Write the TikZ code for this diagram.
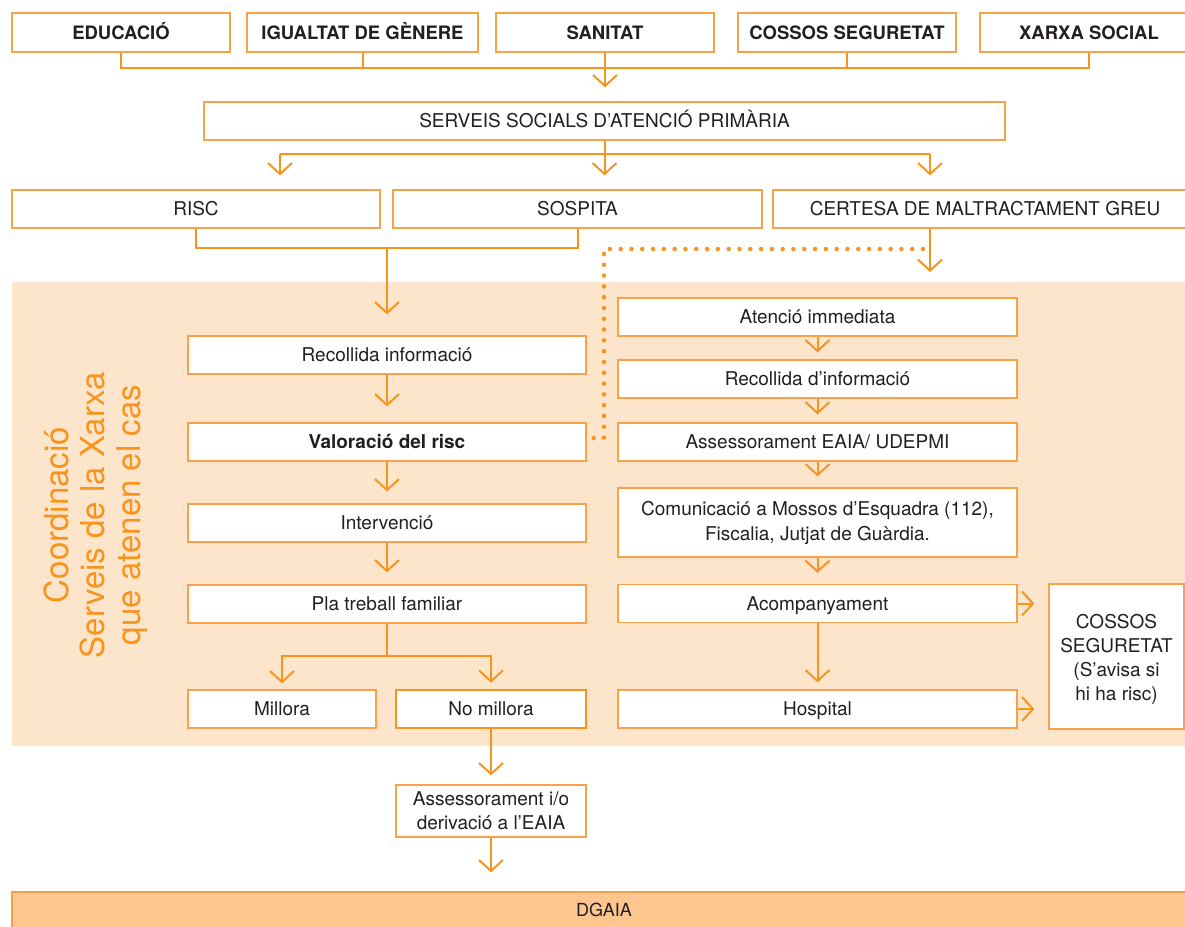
\documentclass[tikz,border=0pt]{standalone}
\usepackage{fontspec}
\setmainfont{TeX Gyre Heros}
\usetikzlibrary{arrows.meta,calc}
\definecolor{org}{HTML}{F7941D}
\definecolor{bord}{HTML}{F8A14B}
\definecolor{bgshade}{HTML}{FDE5CB}
\definecolor{dg}{HTML}{FDC68E}
\definecolor{txt}{HTML}{231F20}
\begin{document}
\begin{tikzpicture}[x=1pt,y=-1pt,
 box/.style={draw=bord, line width=1.3pt, fill=white, inner sep=0pt, text=txt, font=\fontsize{19}{24}\selectfont, align=center, text height=13.7pt, text depth=0pt},
 mbox/.style={box, text height=, text depth=},
 hbox/.style={box, font=\fontsize{18.5}{24}\selectfont\bfseries},
 line/.style={draw=org, line width=2pt},
 arr/.style={line, -{Straight Barb[length=11pt,width=24pt]}},
 dotline/.style={draw=org, line width=4.5pt, line cap=round, dash pattern=on 0pt off 10.8pt}
]
\useasboundingbox (0,0) rectangle (1185,926);
\fill[bgshade] (12,282) rectangle (1200,746);

% top row
\node[hbox, minimum width=218pt, minimum height=39pt] (edu) at (121,32.5) {EDUCACIÓ};
\node[hbox, minimum width=231pt, minimum height=39pt] (igu) at (362.5,32.5) {IGUALTAT DE GÈNERE};
\node[hbox, minimum width=218pt, minimum height=39pt] (san) at (605,32.5) {SANITAT};
\node[hbox, minimum width=218pt, minimum height=39pt] (cos) at (847,32.5) {COSSOS SEGURETAT};
\node[hbox, minimum width=218pt, minimum height=39pt] (xar) at (1089,32.5) {XARXA SOCIAL};

\node[box, minimum width=801pt, minimum height=38pt] (serv) at (604.5,121) {SERVEIS SOCIALS D’ATENCIÓ PRIMÀRIA};

\node[box, minimum width=368pt, minimum height=38pt] (risc) at (196,209) {RISC};
\node[box, minimum width=369pt, minimum height=38pt] (sos) at (577.5,209) {SOSPITA};
\node[box, minimum width=424pt, minimum height=38pt] (cert) at (985,209) {CERTESA DE MALTRACTAMENT GREU};

% vertical label
\node[rotate=90, text=org, font=\fontsize{33}{36}\selectfont, align=center] (coord) at (96,515) {Coordinació\\Serveis de la Xarxa\\que atenen el cas};

% left column
\node[box, minimum width=398pt, minimum height=38pt] (rec1) at (387,355) {Recollida informació};
\node[box, minimum width=398pt, minimum height=38pt, font=\fontsize{19}{24}\selectfont\bfseries] (val) at (387,442) {Valoració del risc};
\node[box, minimum width=398pt, minimum height=38pt] (int) at (387,523) {Intervenció};
\node[box, minimum width=398pt, minimum height=38pt] (pla) at (387,604) {Pla treball familiar};
\node[box, minimum width=188pt, minimum height=38pt] (mill) at (282,709) {Millora};
\node[box, draw=org, line width=2.6pt, minimum width=190pt, minimum height=38pt] (nomi) at (491,709) {No millora};
\node[mbox, minimum width=190pt, minimum height=52pt] (ase2) at (491,811) {Assessorament i/o\\derivació a l’EAIA};

% right column
\node[box, minimum width=399pt, minimum height=38pt] (aten) at (817.5,317) {Atenció immediata};
\node[box, minimum width=399pt, minimum height=38pt] (rec2) at (817.5,379) {Recollida d’informació};
\node[box, minimum width=399pt, minimum height=38pt] (ase) at (817.5,442) {Assessorament EAIA/ UDEPMI};
\node[mbox, minimum width=399pt, minimum height=69pt, font=\fontsize{19}{25}\selectfont] (com) at (817.5,522.5) {Comunicació a Mossos d’Esquadra (112),\\Fiscalia, Jutjat de Guàrdia.};
\node[box, minimum width=399pt, minimum height=38pt] (aco) at (817.5,603.5) {Acompanyament};
\node[box, minimum width=399pt, minimum height=38pt] (hos) at (817.5,709) {Hospital};
\node[mbox, minimum width=135pt, minimum height=145pt] (cosR) at (1116.5,656.5) {\rule{0pt}{20pt}COSSOS\\SEGURETAT\\(S’avisa si\\hi ha risc)};

% DGAIA bar
\node[fill=dg, draw=bord, line width=1.3pt, inner sep=0pt, minimum width=1184pt, minimum height=36pt, text=txt, font=\fontsize{18}{22}\selectfont, text height=13pt, text depth=0pt] (dgaia) at (604,910) {DGAIA};

% top bus
\coordinate (bus) at (0,67.5);
\draw[line] (edu.south) |- (xar.south |- bus) -- (xar.south);
\draw[line] (igu.south) -- (igu.south |- bus);
\draw[line] (cos.south) -- (cos.south |- bus);
\draw[arr, shorten >=14pt] (san.south) -- (san.south |- serv.north);

% serveis split
\coordinate (sL) at (280,154);
\coordinate (sR) at (930,154);
\draw[line] (sL) -- (sR);
\draw[arr, shorten >=14pt] (sL) -- (sL |- risc.north);
\draw[arr, shorten >=14pt] (sR) -- (sR |- cert.north);
\draw[arr, shorten >=14pt] (serv.south) -- (serv.south |- sos.north);

% risc / sospita merge
\coordinate (m1) at (387,248);
\draw[line] (risc.south) |- (sos.south |- m1) -- (sos.south);
\draw[arr, shorten >=21pt] (m1) -- (m1 |- rec1.north);

% certesa
\coordinate (cd) at (930,272);
\draw[arr] (cert.south -| cd) -- (cd);
\coordinate (dv) at (604,249);
\draw[dotline] ($(val.east)+(7,-4)$) -| (dv) -- ($(dv -| cd)+(-3,0)$);

% left column arrows
\draw[arr, shorten >=16pt] (rec1.south) -- (val.north);
\draw[arr, shorten >=12pt] (val.south) -- (int.north);
\draw[arr, shorten >=12pt] (int.south) -- (pla.north);
\coordinate (m2) at (387,656);
\draw[line] (pla.south) -- (m2);
\draw[arr, shorten >=6pt] (m2) -| (mill.north);
\draw[arr, shorten >=6pt] (m2) -| (nomi.north);
\draw[arr, shorten >=9pt] (nomi.south) -- (ase2.north);
\draw[arr, shorten >=19pt] (ase2.south) -- (ase2.south |- dgaia.north);

% right column arrows
\draw[arr, shorten >=7pt] (aten.south) -- (rec2.north);
\draw[arr, shorten >=8pt] (rec2.south) -- (ase.north);
\draw[arr, shorten >=11pt] (ase.south) -- (com.north);
\draw[arr, shorten >=11pt] (com.south) -- (aco.north);
\draw[arr, shorten >=7pt] (aco.south) -- (hos.north);
\draw[arr, shorten >=14pt] (aco.east) -- (aco.east -| cosR.west);
\draw[arr, shorten >=14pt] (hos.east) -- (hos.east -| cosR.west);
\end{tikzpicture}
\end{document}
